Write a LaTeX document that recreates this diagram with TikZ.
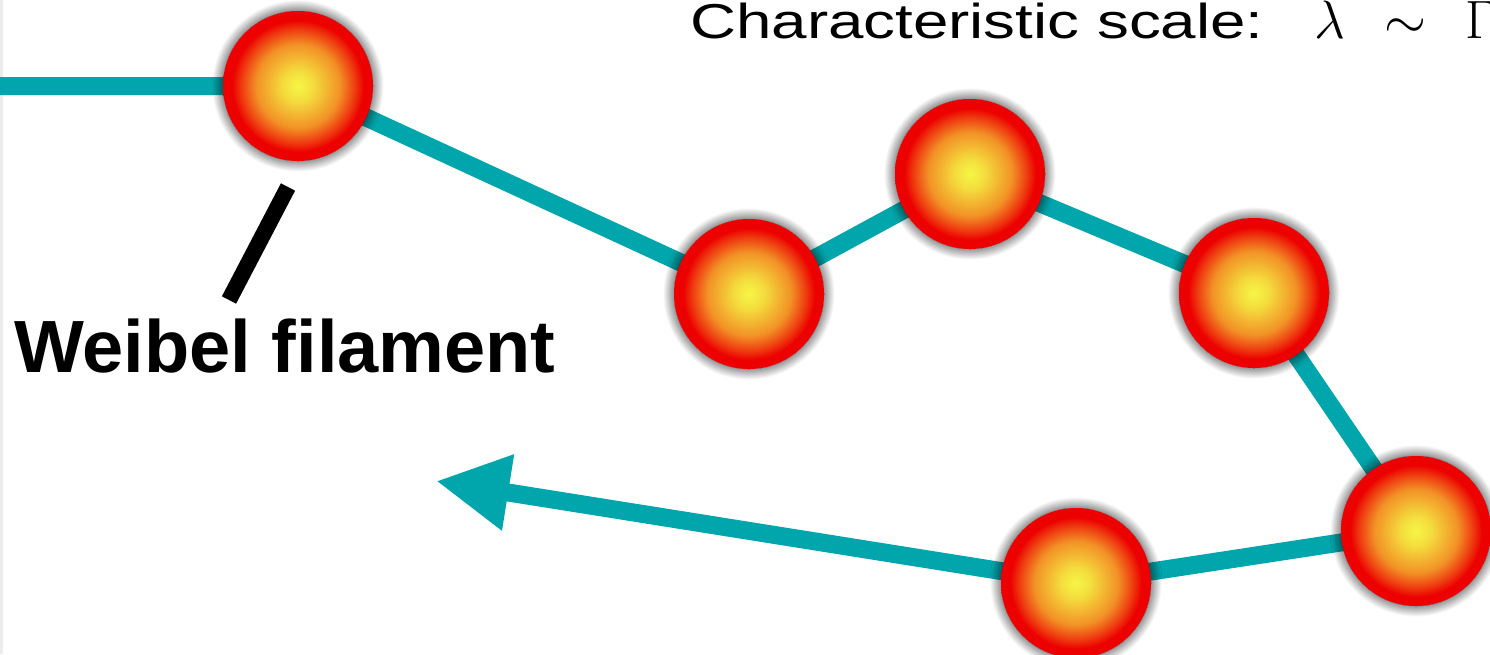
\documentclass[tikz,border=0pt]{standalone}
\usepackage{fix-cm}
\usepackage[no-math]{fontspec}
\newfontfamily\helv{Liberation Sans}
\newfontfamily\helvwide[FakeStretch=1.3]{Liberation Sans}
\usetikzlibrary{arrows.meta}
\usetikzlibrary{shadows.blur}
\usetikzlibrary{backgrounds}
\definecolor{filteal}{RGB}{0,166,172}
\definecolor{ballyellow}{RGB}{245,246,70}
\definecolor{ballorange}{RGB}{242,145,38}
\definecolor{ballred}{RGB}{236,0,0}
\pgfdeclareradialshading{weibelball}{\pgfpointorigin}{color(0bp)=(ballyellow); color(5bp)=(ballyellow!75!ballorange); color(14bp)=(ballorange); color(19bp)=(ballred!60!ballorange); color(22bp)=(ballred); color(25bp)=(ballred); color(50bp)=(ballred)}

\begin{document}
\begin{tikzpicture}[x=1pt, y=-1pt,
    filament/.style={line width=18pt, draw=filteal},
    ball/.style={circle, minimum size=150pt, inner sep=0pt, shade, shading=weibelball,
      blur shadow={shadow xshift=0pt, shadow yshift=0pt, shadow blur radius=11pt,
        shadow blur steps=24, shadow opacity=85}},
    pointer/.style={line width=16pt, black},
    txt/.style={anchor=base west, inner sep=0pt}]

    \useasboundingbox (0,0) rectangle (1490,654);
    \clip (0,0) rectangle (1490,654);

    \node[ball] (b1) at (298,86) {};
    \node[ball] (b2) at (749,294) {};
    \node[ball] (b3) at (970,174) {};
    \node[ball] (b4) at (1254,293) {};
    \node[ball] (b5) at (1416,531) {};
    \node[ball] (b6) at (1076,583) {};
    \coordinate (start) at (0,86);
    \coordinate (tip) at (436,481);

    \node[txt, font={\helvwide\fontsize{49}{54}\selectfont}] (scale) at (690,38) {Characteristic scale:};
    \node[txt, font={\fontsize{54}{58}\selectfont}] (lam) at (1314,38) {$\lambda\mskip8mu\sim\mskip8mu\Gamma$};
    \node[txt, font={\helv\bfseries\fontsize{74}{80}\selectfont}] (fil) at (14,372) {Weibel filament};

    \coordinate (ptop) at (288,187);
    \coordinate (pbot) at (229,300);
    \draw[pointer] (ptop) -- (pbot);

    \begin{scope}[on background layer]
    \fill[gray!15] (0,0) rectangle (3,654);
    \draw[filament, -{Triangle[length=73pt, width=72pt]}] (start) -- (b1.center) -- (b2.center) -- (b3.center)
        -- (b4.center) -- (b5.center) -- (b6.center) -- (tip);
    \end{scope}
\end{tikzpicture}
\end{document}
